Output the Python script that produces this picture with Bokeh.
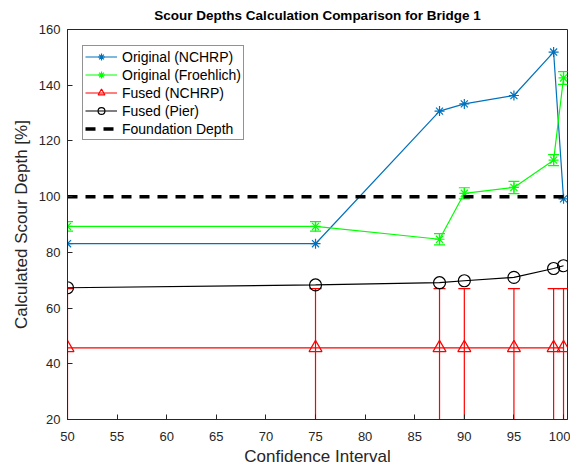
from bokeh.plotting import figure
from bokeh.models import (ColumnDataSource, Whisker, TeeHead, Legend, LegendItem, FixedTicker,
                          Range1d)
from bokeh.embed import file_html
from bokeh.resources import INLINE

# ---- data ----
ci = [50, 75, 87.5, 90, 95, 99, 100]
orig_nchrp = [83.1, 83.1, 130.7, 133.3, 136.3, 151.9, 99.2]
orig_froehlich = [89.3, 89.3, 84.7, 101.2, 103.3, 113.1, 142.6]
froehlich_err = [1.7, 1.7, 2.0, 2.0, 2.2, 2.0, 2.3]
fused_nchrp = [45.7, 45.7, 45.7, 45.7, 45.7, 45.7, 45.7]
fused_nchrp_low = [20.0, 20.0, 20.0, 20.0, 20.0, 20.0, 20.0]
fused_nchrp_high = [67.0, 67.0, 67.0, 67.0, 67.0, 67.0, 67.0]
fused_pier = [67.3, 68.3, 69.1, 69.8, 71.0, 74.2, 75.2]
foundation_depth = 100
x_ticks = [50, 55, 60, 65, 70, 75, 80, 85, 90, 95, 100]
y_ticks = [20, 40, 60, 80, 100, 120, 140, 160]
title_text = "Scour Depths Calculation Comparison for Bridge 1"

FONT = "Liberation Sans"
BLUE = "#0072BD"
GREEN = "#00FF00"
RED = "#FF0000"

p = figure(width=570, height=468, output_backend="svg", toolbar_location=None,
           x_range=Range1d(50, 100.4), y_range=Range1d(20, 160),
           min_border_left=67, min_border_right=3, min_border_top=29, min_border_bottom=44)
p.title.text = title_text
p.title.text_font = FONT
p.title.text_font_size = "13.5px"
p.title.text_font_style = "bold"
p.title.align = "center"
p.title.vertical_align = "top"
p.title.text_color = "#000000"
p.title.offset = -6
p.title.standoff = 10

p.xgrid.visible = False
p.ygrid.visible = False
p.outline_line_color = "#262626"
p.outline_line_width = 1
p.background_fill_color = "white"
p.border_fill_color = "white"

for ax in (p.xaxis[0], p.yaxis[0]):
    ax.major_tick_in = 5
    ax.major_tick_out = 0
    ax.minor_tick_line_color = None
    ax.axis_line_color = "#262626"
    ax.major_tick_line_color = "#262626"
    ax.major_label_text_font = FONT
    ax.major_label_text_font_size = "13px"
    ax.major_label_text_color = "#262626"
    ax.axis_label_text_font = FONT
    ax.axis_label_text_font_size = "17px"
    ax.axis_label_text_font_style = "normal"
    ax.axis_label_text_color = "#262626"

p.xaxis.ticker = FixedTicker(ticks=x_ticks)
p.yaxis.ticker = FixedTicker(ticks=y_ticks)
p.xaxis.axis_label = "Confidence Interval"
p.yaxis.axis_label = "Calculated Scour Depth [%]"
p.xaxis.major_label_standoff = 12
p.xaxis.axis_label_standoff = 3
p.yaxis.major_label_standoff = 7
p.yaxis.axis_label_standoff = 5

src = ColumnDataSource(dict(
    x=ci, nchrp=orig_nchrp, fro=orig_froehlich,
    fro_lo=[v - e for v, e in zip(orig_froehlich, froehlich_err)],
    fro_hi=[v + e for v, e in zip(orig_froehlich, froehlich_err)],
    fn=fused_nchrp, fn_lo=fused_nchrp_low, fn_hi=fused_nchrp_high,
    pier=fused_pier,
))

# Original (NCHRP)
l1 = p.line("x", "nchrp", source=src, line_color=BLUE, line_width=1.2)
m1 = p.scatter("x", "nchrp", source=src, marker="asterisk", size=10, line_color=BLUE, line_width=1.2)

# Original (Froehlich)
w2 = Whisker(base="x", lower="fro_lo", upper="fro_hi", source=src, line_color=GREEN, line_width=1.2,
             upper_head=TeeHead(size=11, line_color=GREEN, line_width=1.2),
             lower_head=TeeHead(size=11, line_color=GREEN, line_width=1.2))
p.add_layout(w2)
l2 = p.line("x", "fro", source=src, line_color=GREEN, line_width=1.2)
m2 = p.scatter("x", "fro", source=src, marker="asterisk", size=10, line_color=GREEN, line_width=1.2)

# Fused (NCHRP)
w3 = Whisker(base="x", lower="fn_lo", upper="fn_hi", source=src, line_color=RED, line_width=1.2,
             upper_head=TeeHead(size=12, line_color=RED, line_width=1.2),
             lower_head=TeeHead(size=12, line_color=RED, line_width=1.2))
p.add_layout(w3)
l3 = p.line("x", "fn", source=src, line_color=RED, line_width=1.2)
m3 = p.scatter("x", "fn", source=src, marker="triangle", size=13, line_color=RED,
               fill_color=None, line_width=1.2)

# Fused (Pier)
l4 = p.line("x", "pier", source=src, line_color="black", line_width=1.2)
m4 = p.scatter("x", "pier", source=src, marker="circle", size=12, line_color="black",
               fill_color=None, line_width=1.2)

# Foundation depth
l5 = p.line([ci[0], ci[-1]], [foundation_depth, foundation_depth], line_color="black",
            line_width=3.5, line_dash="10 8")

legend = Legend(items=[
    LegendItem(label="Original (NCHRP)", renderers=[l1, m1]),
    LegendItem(label="Original (Froehlich)", renderers=[l2, m2]),
    LegendItem(label="Fused (NCHRP)", renderers=[l3, m3]),
    LegendItem(label="Fused (Pier)", renderers=[l4, m4]),
    LegendItem(label="Foundation Depth", renderers=[l5]),
], location=(15, 279))
legend.label_text_font = FONT
legend.label_text_font_size = "14px"
legend.label_text_color = "#000000"
legend.glyph_width = 32
legend.glyph_height = 17
legend.label_height = 17
legend.spacing = 1
legend.padding = 2
legend.margin = 0
legend.label_standoff = 5
legend.border_line_color = "#262626"
legend.border_line_width = 1
legend.background_fill_alpha = 1.0
p.add_layout(legend, "center")

open("out.html", "w").write(file_html(p, INLINE))
